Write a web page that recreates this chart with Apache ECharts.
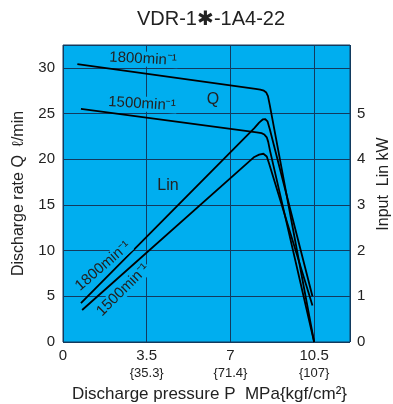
<!DOCTYPE html>
<html>
<head>
<meta charset="utf-8">
<script src="https://cdn.jsdelivr.net/npm/echarts@6/dist/echarts.min.js"></script>
<style>
  html, body { margin: 0; padding: 0; background: #fff; }
  #chart { width: 393px; height: 404px; }
</style>
</head>
<body>
<div id="chart"></div>
<script>
// pressure ticks (MPa) and the kgf/cm2 equivalents printed under them
const pressureTicks = [0, 3.5, 7, 10.5];
const kgfLabels = ['', '{35.3}', '{71.4}', '{107}'];
const flowTicks = [0, 5, 10, 15, 20, 25, 30];
const powerTicks = [0, 1, 2, 3, 4, 5];

// discharge rate Q (l/min) vs pressure (MPa)
const q1800 = [[0.6, 30.4], [8.05, 27.7], [8.25, 27.62], [8.4, 27.5], [8.5, 27.3], [8.57, 26.9], [8.64, 26.0], [10.5, 0]];
const q1500 = [[0.75, 25.5], [8.1, 22.95], [8.3, 22.85], [8.42, 22.7], [8.52, 22.4], [8.58, 21.9], [8.65, 21.0], [10.5, 0]];

// input power Lin (kW) vs pressure (MPa)
const lin1800 = [[0.75, 0.85], [8.0, 4.68], [8.2, 4.8], [8.35, 4.87], [8.45, 4.88], [8.55, 4.83], [8.65, 4.65], [10.43, 1.0]];
const lin1500 = [[0.8, 0.7], [8.0, 4.05], [8.2, 4.1], [8.38, 4.12], [8.52, 4.06], [8.62, 3.9], [10.43, 0.8]];

const chart = echarts.init(document.getElementById('chart'));
const txt = '#222';
const gridColor = '#123a5e';
const plotBg = '#00aeef';
const fontFam = '"Liberation Sans", Arial, sans-serif';

function line(name, data, yIdx) {
  return {
    name: name,
    type: 'line',
    yAxisIndex: yIdx,
    data: data,
    showSymbol: false,
    symbol: 'none',
    lineStyle: { color: '#000', width: 1.8 },
    silent: true,
    z: 3
  };
}

function curveLabel(text, x, y, rot) {
  return {
    type: 'text', x: x, y: y, rotation: rot, z: 10,
    style: {
      text: text, font: '15px ' + fontFam, fill: txt,
      align: 'center', verticalAlign: 'middle',
      backgroundColor: plotBg, padding: [0, 1]
    }
  };
}

chart.setOption({
  animation: false,
  textStyle: { fontFamily: fontFam },
  title: {
    text: 'VDR-1\u2731-1A4-22',
    left: 206,
    textAlign: 'center',
    top: 4,
    textStyle: { fontSize: 20, fontWeight: 'normal', color: txt, fontFamily: fontFam }
  },
  grid: {
    left: 63, right: 43, top: 45, bottom: 62,
    outerBoundsMode: 'none',
    containLabel: false,
    show: true,
    backgroundColor: plotBg,
    borderColor: gridColor,
    borderWidth: 1
  },
  xAxis: {
    type: 'value',
    min: 0, max: 12, interval: 3.5,
    name: 'Discharge pressure P  MPa{kgf/cm\u00b2}',
    nameLocation: 'middle',
    nameGap: 39,
    nameTextStyle: { fontSize: 17, color: txt, padding: [0, 0, 0, 6] },
    axisLine: { show: false },
    axisTick: { show: false },
    splitLine: { lineStyle: { color: gridColor, width: 1 } },
    axisLabel: {
      showMaxLabel: false,
      margin: 5,
      fontSize: 13,
      lineHeight: 16,
      color: txt,
      formatter: function (v) {
        const i = pressureTicks.indexOf(v);
        if (i < 0) return '';
        return '{main|' + v + '}' + (kgfLabels[i] ? '\n' + kgfLabels[i] : '');
      },
      rich: { main: { fontSize: 15, lineHeight: 18, color: txt } }
    }
  },
  yAxis: [
    {
      type: 'value',
      min: 0, max: 32.5, interval: 5,
      name: 'Discharge rate Q  \u2113/min',
      nameLocation: 'middle',
      nameGap: 30,
      nameRotate: 90,
      nameTextStyle: { fontSize: 16, color: txt, padding: [0, 0, 6, 0] },
      axisLine: { show: false },
      axisTick: { show: false },
      splitLine: { lineStyle: { color: gridColor, width: 1 } },
      axisLabel: {
        fontSize: 15, color: txt, margin: 8,
        formatter: function (v) { return flowTicks.indexOf(v) >= 0 ? String(v) : ''; }
      }
    },
    {
      type: 'value',
      position: 'right',
      min: 0, max: 6.5, interval: 1,
      axisLine: { show: false },
      axisTick: { show: false },
      splitLine: { show: false },
      axisLabel: {
        fontSize: 15, color: txt, margin: 7,
        formatter: function (v) { return powerTicks.indexOf(v) >= 0 ? String(v) : ''; }
      }
    }
  ],
  series: [
    line('Q 1800', q1800, 0),
    line('Q 1500', q1500, 0),
    line('Lin 1800', lin1800, 1),
    line('Lin 1500', lin1500, 1)
  ],
  graphic: [
    {
      type: 'text', x: 384, y: 184, rotation: Math.PI / 2, z: 10,
      style: { text: 'Input  Lin kW', font: '16px ' + fontFam, fill: txt, align: 'center', verticalAlign: 'middle' }
    },
    curveLabel('1800min\u207b\u00b9', 143, 59, -0.05),
    curveLabel('1500min\u207b\u00b9', 142, 104, -0.06),
    {
      type: 'text', x: 213, y: 100, z: 10,
      style: { text: 'Q', font: '16px ' + fontFam, fill: txt, align: 'center', verticalAlign: 'middle' }
    },
    {
      type: 'text', x: 168, y: 186, z: 10,
      style: { text: 'Lin', font: '16px ' + fontFam, fill: txt, align: 'center', verticalAlign: 'middle' }
    },
    curveLabel('1800min\u207b\u00b9', 103, 266, 0.71),
    curveLabel('1500min\u207b\u00b9', 123, 290, 0.78)
  ]
});
</script>
</body>
</html>
